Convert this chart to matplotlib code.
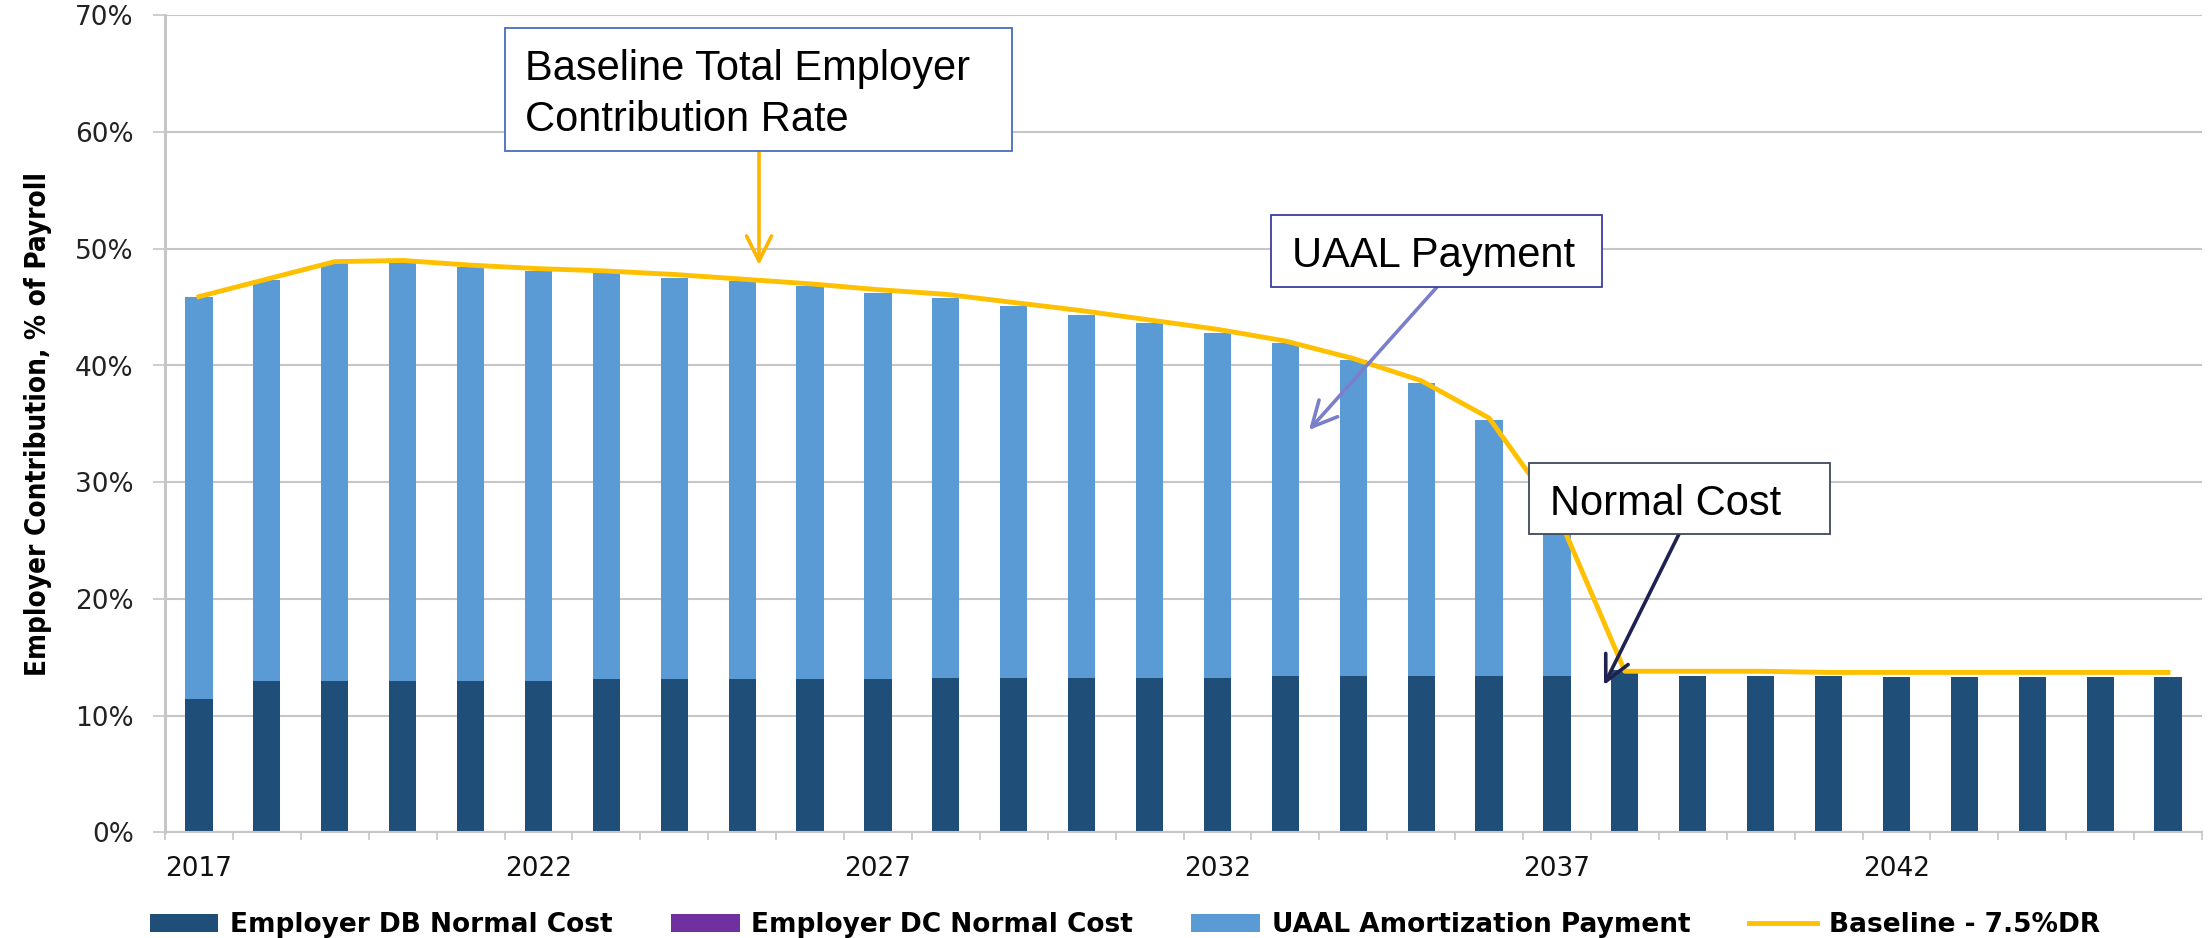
import numpy as np
import matplotlib
matplotlib.use("Agg")
import matplotlib.pyplot as plt
from matplotlib.patches import Rectangle
from matplotlib import font_manager as fm

# dados (% da folha de pagamento)
anos = list(range(2017, 2047))
db_normal = [11.4, 13.0, 13.0, 13.0, 13.0, 13.0, 13.1, 13.1, 13.1, 13.1,
             13.1, 13.2, 13.2, 13.2, 13.2, 13.2, 13.4, 13.4, 13.4, 13.4,
             13.4, 13.9, 13.4, 13.4, 13.4, 13.3, 13.3, 13.3, 13.3, 13.3]
dc_normal = [0.0] * 30
uaal = [34.5, 34.3, 35.8, 35.9, 35.4, 35.1, 34.8, 34.4, 34.1, 33.7,
        33.1, 32.6, 31.9, 31.1, 30.4, 29.6, 28.5, 27.1, 25.1, 21.9,
        13.8, -0.1, 0.0, 0.0, 0.0, 0.0, 0.0, 0.0, 0.0, 0.0]
baseline = [45.9, 47.4, 48.9, 49.0, 48.6, 48.3, 48.1, 47.8, 47.4, 47.0,
            46.5, 46.1, 45.4, 44.7, 43.9, 43.1, 42.1, 40.6, 38.7, 35.5,
            27.4, 13.8, 13.8, 13.8, 13.7, 13.7, 13.7, 13.7, 13.7, 13.7]
anos_rotulo = [2017, 2022, 2027, 2032, 2037, 2042]

# cores
c_db = "#1F4E79"
c_dc = "#7030A0"
c_uaal = "#5B9BD5"
c_base = "#FFC000"
c_grid = "#C6C6C6"

W, H = 2208, 938
fig = plt.figure(figsize=(W / 100, H / 100), dpi=100)
ax = fig.add_axes([165 / W, 1 - 832.3 / H, (2202 - 165) / W, (832.3 - 15.4) / H])

x = np.arange(len(anos))
db = np.array(db_normal)
dc = np.array(dc_normal)
ua = np.array(uaal)
largura = 0.4

b1 = ax.bar(x, db, largura, color=c_db, label="Employer DB Normal Cost", zorder=2)
b2 = ax.bar(x, dc, largura, bottom=db, color=c_dc, label="Employer DC Normal Cost", zorder=2)
# negativos ficam abaixo do zero, como no Excel
base_ua = np.where(ua >= 0, db + dc, 0)
b3 = ax.bar(x, ua, largura, bottom=base_ua, color=c_uaal, label="UAAL Amortization Payment", zorder=2)
l1, = ax.plot(x, baseline, color=c_base, lw=3.5, label="Baseline - 7.5%DR", zorder=3)

ax.set_xlim(-0.5, len(anos) - 0.5)
ax.set_ylim(0, 70)
ax.set_yticks(range(0, 80, 10))
ax.set_yticklabels([f"{v}%" for v in range(0, 80, 10)], fontsize=19, color="#222222")
ax.tick_params(axis="y", length=8.5, width=1.2, color=c_grid, pad=14)

idx = [anos.index(a) for a in anos_rotulo]
ax.set_xticks(idx)
ax.set_xticklabels([str(a) for a in anos_rotulo], fontsize=19, color="#111111")
ax.set_xticks(np.arange(-0.5, len(anos), 1), minor=True)
ax.tick_params(axis="x", which="major", length=0, pad=17)
ax.tick_params(axis="x", which="minor", length=6, width=1.2, color=c_grid)

ax.grid(axis="y", color=c_grid, lw=1.5, zorder=0)
ax.set_axisbelow(True)
for s in ["top", "right"]:
    ax.spines[s].set_visible(False)
ax.spines["left"].set_color(c_grid)
ax.spines["left"].set_linewidth(2.2)
ax.spines["bottom"].set_color(c_grid)
ax.spines["bottom"].set_linewidth(1.5)

# rótulo do eixo y em fonte estreita, se houver
try:
    fm.findfont(fm.FontProperties(family="Liberation Sans Narrow", weight="bold"),
                fallback_to_default=False)
    fonte_y = dict(family="Liberation Sans Narrow", fontsize=24)
except ValueError:
    caminho = fm.findfont(fm.FontProperties(family="DejaVu Sans", weight="bold",
                                            stretch="condensed"))
    if "Condensed" in caminho:
        fonte_y = dict(family="DejaVu Sans", fontstretch="condensed", fontsize=20)
    else:
        fonte_y = dict(family="DejaVu Sans", fontsize=17.5)
fig.text(38 / W, 1 - 424 / H, "Employer Contribution, % of Payroll", rotation=90,
         ha="center", va="center", fontweight="bold", **fonte_y)

fig.legend([b1, b2, b3, l1],
           ["Employer DB Normal Cost", "Employer DC Normal Cost",
            "UAAL Amortization Payment", "Baseline - 7.5%DR"],
           loc="center", bbox_to_anchor=(1125 / W, 1 - 925 / H), ncol=4,
           frameon=False, prop={"weight": "bold", "size": 19},
           handlelength=2.6, handletextpad=0.45, columnspacing=2.2)

# caixas de anotação (pixels da figura)
def caixa(x0, y0, x1, y1, cor):
    fig.add_artist(Rectangle((x0 / W, 1 - y1 / H), (x1 - x0) / W, (y1 - y0) / H,
                             transform=fig.transFigure, facecolor="white",
                             edgecolor=cor, lw=1.3, zorder=5))

def texto(xp, yp, s):
    fig.text(xp / W, 1 - yp / H, s, ha="left", va="baseline", fontsize=30,
             family="Liberation Sans", color="black", zorder=6)

def seta(x0, y0, x1, y1, cor):
    ax.annotate("", xy=(x1, H - y1), xytext=(x0, H - y0), xycoords="figure pixels",
                textcoords="figure pixels", annotation_clip=False, zorder=4,
                arrowprops=dict(arrowstyle="->,head_length=0.9,head_width=0.45",
                                color=cor, lw=2.6, mutation_scale=20,
                                shrinkA=0, shrinkB=0))

caixa(505, 28, 1012, 151, "#4A6CC0")
texto(525, 80, "Baseline Total Employer")
texto(525, 131, "Contribution Rate")
seta(759, 151, 759, 265, "#FFB400")

caixa(1271, 215, 1602, 287, "#3B3F9E")
texto(1292, 267, "UAAL Payment")
seta(1437, 287, 1309, 430, "#7B7FCA")

caixa(1529, 463, 1830, 534, "#40485C")
texto(1550, 515, "Normal Cost")
seta(1679, 534, 1604, 685, "#1F2150")

fig.savefig("out.png", dpi=100)
